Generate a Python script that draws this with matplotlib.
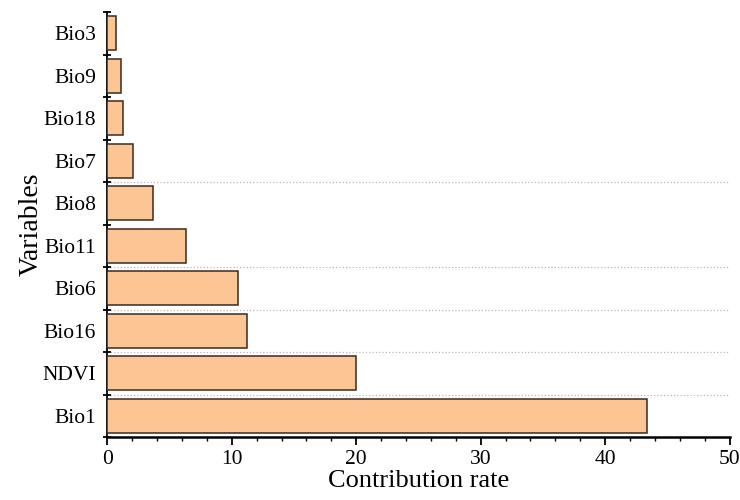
import matplotlib.pyplot as plt
import numpy as np
from matplotlib.ticker import MultipleLocator, FixedLocator

variables = ['Bio1', 'NDVI', 'Bio16', 'Bio6', 'Bio11', 'Bio8', 'Bio7', 'Bio18', 'Bio9', 'Bio3']
contribution = [43.4, 20.0, 11.2, 10.5, 6.3, 3.7, 2.1, 1.3, 1.1, 0.7]

plt.rcParams['font.family'] = 'Liberation Serif'

fig = plt.figure(figsize=(7.4, 5.0), dpi=100)
ax = fig.add_axes([0.145, 0.126, 0.841, 0.85])

ypos = np.arange(len(variables))
ax.barh(ypos, contribution, height=0.8, color='#fbc594',
        edgecolor='#3b2a22', linewidth=1.1, zorder=3)

# dotted gridlines between some of the categories
for yb in [0.5, 1.5, 2.5, 3.5, 5.5]:
    ax.axhline(yb, color='#b8b8b8', linestyle=':', linewidth=0.9, zorder=1)

ax.set_xlim(0, 50)
ax.set_ylim(-0.5, len(variables) - 0.5)

ax.xaxis.set_major_locator(MultipleLocator(10))
ax.xaxis.set_minor_locator(MultipleLocator(2))
ax.tick_params(axis='x', which='major', direction='out', length=6, width=1.3,
               labelsize=15.5, pad=3)
ax.tick_params(axis='x', which='minor', direction='out', length=3, width=1.0)

# ticks on the boundaries, labels at the centres
ax.yaxis.set_major_locator(FixedLocator(np.arange(-0.5, len(variables), 1.0)))
ax.yaxis.set_minor_locator(FixedLocator(ypos))
ax.set_yticklabels([])
ax.set_yticklabels(variables, minor=True)
ax.tick_params(axis='y', which='major', direction='inout', length=6, width=1.3)
ax.tick_params(axis='y', which='minor', length=0, labelsize=15.5, pad=8)

for s in ['top', 'right']:
    ax.spines[s].set_visible(False)
ax.spines['left'].set_linewidth(1.3)
ax.spines['bottom'].set_linewidth(1.8)

ax.set_xlabel('Contribution rate', fontsize=19, labelpad=1)
ax.set_ylabel('Variables', fontsize=20, labelpad=-1)

fig.savefig('out.png', dpi=100)
